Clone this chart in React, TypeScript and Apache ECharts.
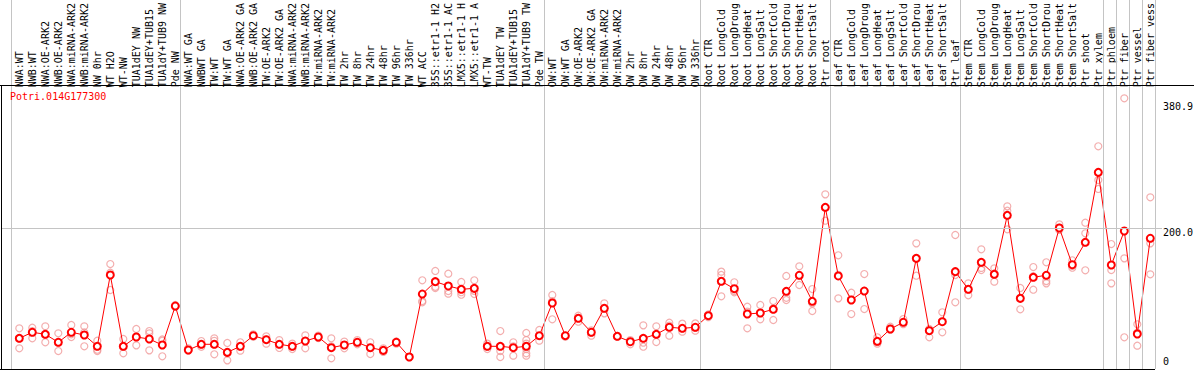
import React, { useEffect, useRef } from "react";
import * as echarts from "echarts";

const title = "Potri.014G177300";

const categories = [
  "NWA:WT", "NWB:WT", "NWA:OE-ARK2", "NWB:OE-ARK2", "NWA:miRNA-ARK2", "NWB:miRNA-ARK2", "NW 0hr", "WT H2O", "WT-NW", "TUA1dEY NW", "TUA1dEY+TUB15", "TUA1dY+TUB9 NW", "Pde NW",
  "NWA:WT GA", "NWBWT GA", "TW:WT", "TW:WT GA", "NWA:OE-ARK2 GA", "NWB:OE-ARK2 GA", "TW:OE-ARK2", "TW:OE-ARK2 GA", "NWA:miRNA-ARK2", "NWB:miRNA-ARK2", "TW:miRNA-ARK2", "TW:miRNA-ARK2", "TW 2hr", "TW 8hr", "TW 24hr", "TW 48hr", "TW 96hr", "TW 336hr", "WT ACC", "35S::etr1-1 H2", "35S::etr1-1 AC", "LMX5::etr1-1 H", "LMX5::etr1-1 A", "WT-TW", "TUA1dEY TW", "TUA1dEY+TUB15", "TUA1dY+TUB9 TW", "Pde TW",
  "OW:WT", "OW:WT GA", "OW:OE-ARK2", "OW:OE-ARK2 GA", "OW:miRNA-ARK2", "OW:miRNA-ARK2", "OW 2hr", "OW 8hr", "OW 24hr", "OW 48hr", "OW 96hr", "OW 336hr",
  "Root CTR", "Root LongCold", "Root LongDroug", "Root LongHeat", "Root LongSalt", "Root ShortCold", "Root ShortDrou", "Root ShortHeat", "Root ShortSalt", "Ptr root",
  "Leaf CTR", "Leaf LongCold", "Leaf LongDroug", "Leaf LongHeat", "Leaf LongSalt", "Leaf ShortCold", "Leaf ShortDrou", "Leaf ShortHeat", "Leaf ShortSalt", "Ptr leaf",
  "Stem CTR", "Stem LongCold", "Stem LongDroug", "Stem LongHeat", "Stem LongSalt", "Stem ShortCold", "Stem ShortDrou", "Stem ShortHeat", "Stem ShortSalt", "Ptr shoot", "Ptr xylem",
  "Ptr phloem", "Ptr fiber", "Ptr vessel", "Ptr fiber vess",
];

// number of categories in each separated block
const groupSizes = [13, 28, 12, 10, 10, 11, 1, 1, 1, 1];

const means = [
  41.6, 50.3, 47.4, 35.9, 50.3, 46.4, 30.1, 132.8, 30.1, 43.5, 40.6, 32.0, 88.1,
  24.8, 33.0, 33.0, 21.4, 30.1, 45.4, 39.6, 33.0, 30.1, 37.7, 43.5, 28.1, 32.0, 35.9, 28.1, 24.3, 35.9, 14.7, 105.4, 123.2, 117.0, 112.2, 113.6, 30.1, 30.1, 28.1, 30.1, 45.4,
  92.5, 45.4, 70.4, 50.3, 84.8, 44.5, 36.7, 41.6, 47.4, 57.5, 56.0, 57.5,
  74.2, 123.7, 113.1, 76.6, 78.1, 83.4, 109.3, 132.4, 94.9, 230.3,
  131.4, 96.8, 109.7, 37.3, 55.0, 64.7, 156.8, 52.6, 65.5, 137.6,
  112.2, 151.1, 133.8, 218.8, 99.2, 129.5, 132.4, 200.5, 147.6, 179.9, 280.7,
  147.2, 196.2, 47.8, 185.7,
];

const replicates = [
  [56, 27.2, 41.6], [56.9, 41.6, 52], [58.9, 35.9, 47.4], [48.8, 23.3, 35.9], [60.8, 43.5, 47.4], [58.9, 30.1, 50], [38.2, 25.2, 23.3], [148.6, 136.1, 111.2], [40.6, 20, 30], [55, 31.5, 44], [52.1, 48.8, 24.3], [38.2, 15.7, 40], [89.6, 87, 88],
  [27.2, 24], [37.7, 29.4, 33], [41.6, 18.6, 38], [34.9, 9.9, 20], [35.9, 23.8, 30], [47.4, 44, 45], [44.5, 33.9, 40], [39.1, 27.7, 33], [33.9, 26.2, 30], [45.9, 27.2, 38], [45.5, 43, 42], [41.6, 12.8, 30], [36.9, 27.2, 32], [39.1, 33, 36], [35.9, 19, 28], [27.2, 22, 24], [37, 35, 34], [14.7], [125.2, 95.3, 93.5], [138.6, 115.9, 114.1], [134.7, 109.7, 105.9], [122.7, 108, 104.4], [125.2, 105.4, 110], [33.9, 26.2, 30], [52.1, 23.3, 14.7], [35.9, 16.6, 30], [49.3, 39.1, 33.9, 26.2, 20, 16.6], [53.6, 38.2, 45],
  [104, 69, 95], [45.4, 44], [74.2, 65.5, 71], [45.4, 53, 50], [92, 77.6, 85], [44.5, 45], [39, 33, 37], [60.3, 35.4, 29.5], [58.9, 36.3, 47], [64.1, 45.4, 60], [62.7, 51.2, 56], [63.1, 52.6, 57],
  [74.2, 72, 76], [137.6, 132.8, 102.1], [122.3, 107.9, 110], [87.1, 56, 80], [89.6, 69, 78], [95.3, 68, 85], [131.4, 96.8, 100], [145.3, 118.4, 132], [112.6, 92, 80.9], [249, 211, 230],
  [161.2, 99.2, 133], [107.3, 76.6, 97], [134.2, 83.8, 110], [43.1, 33.9, 36], [58.3, 54, 56], [69.4, 62, 65], [178.4, 131.8, 157], [55, 43.1, 53], [79.1, 50.3, 66], [190.4, 132.8, 93.5],
  [120.8, 103.6, 112], [169.8, 140, 143], [142.4, 123.2, 135], [231.7, 225.4, 198.6], [114.1, 83.4, 100], [144.3, 111.6, 131], [151.1, 120.8, 124], [205.8, 197.7, 201], [154, 143.3, 146], [208.1, 192.9, 139.6], [318.2, 269.6, 256.7],
  [177.4, 140, 120.8], [387.3, 156.8, 43.1], [61.8, 31, 50], [244.7, 178.4, 133.8],
];

const yTickValues = [380.9, 200, 0];
const yTickLabels = ["380.9", "200.0", "0"];
const yGridValues = [200];

const FONT = "'DejaVu Sans Mono', 'Liberation Mono', monospace";

export default function App() {
  const ref = useRef<HTMLDivElement>(null);

  useEffect(() => {
    document.body.style.margin = "0";
    if (!ref.current) return;
    const chart = echarts.init(ref.current, null, { renderer: "svg" });

    const W = 1194;
    const step = 13;
    const firstX = 19.3;
    const gridLeftB = 1;
    const gridRightEdgeB = 1162;
    const xMin = (gridLeftB - firstX) / step;
    const xMax = (gridRightEdgeB - firstX) / step;

    // separators between blocks
    const bounds: number[] = [0];
    groupSizes.forEach((s) => bounds.push(bounds[bounds.length - 1] + s));
    const sepData = bounds.map((b) => ({ xAxis: b - 0.63 }));

    const repPoints: number[][] = [];
    replicates.forEach((arr, i) => arr.forEach((v) => repPoints.push([i, v])));

    const tickLineData = yTickValues.map((v, k) => {
      const isGrid = yGridValues.indexOf(v) >= 0;
      const style = v === 0 ? "b" : "t";
      return {
        yAxis: v,
        lineStyle: isGrid
          ? { color: "#c4c4c4", width: 1, type: "solid" }
          : { color: "rgba(255,255,255,0)", width: 1, type: "solid" },
        label: {
          show: true,
          position: "end",
          distance: 1,
          formatter: "{" + style + "|" + yTickLabels[k] + "}",
          color: "#000",
          fontFamily: FONT,
          fontSize: 10,
          rich: {
            t: { color: "#000", fontFamily: FONT, fontSize: 10, padding: [8, 0, 0, 0] },
            b: { color: "#000", fontFamily: FONT, fontSize: 10, padding: [0, 0, 11, 0] },
          },
        },
      };
    });

    chart.setOption({
      animation: false,
      backgroundColor: "#fff",
      title: {
        text: title,
        left: 5,
        top: 86,
        textStyle: { color: "#ff0000", fontFamily: FONT, fontSize: 10, fontWeight: "normal" },
      },
      grid: [
        { left: 12.5, width: categories.length * step, top: 85, height: 282, containLabel: false },
        { left: gridLeftB, width: gridRightEdgeB - gridLeftB, top: 0, height: 369, containLabel: false },
      ],
      xAxis: [
        {
          type: "category",
          gridIndex: 0,
          position: "top",
          data: categories,
          boundaryGap: true,
          axisLine: { show: false },
          axisTick: { show: false },
          splitLine: { show: false },
          axisLabel: {
            interval: 0,
            rotate: 90,
            margin: 3,
            color: "#000",
            fontFamily: FONT,
            fontSize: 10,
          },
        },
        {
          type: "value",
          gridIndex: 1,
          min: xMin,
          max: xMax,
          show: false,
        },
      ],
      yAxis: [
        { type: "value", gridIndex: 0, show: false },
        { type: "value", gridIndex: 1, min: -2.59, max: 528.9, show: false },
      ],
      graphic: [
        { type: "line", shape: { x1: 0, y1: 85.5, x2: W, y2: 85.5 }, style: { stroke: "#000", lineWidth: 1 }, z: 10 },
        { type: "line", shape: { x1: 1.5, y1: 85, x2: 1.5, y2: 370 }, style: { stroke: "#000", lineWidth: 1 }, z: 10 },
        { type: "line", shape: { x1: 0, y1: 369.5, x2: 1155, y2: 369.5 }, style: { stroke: "#000", lineWidth: 1 }, z: 10 },
      ],
      series: [
        {
          type: "scatter",
          xAxisIndex: 1,
          yAxisIndex: 1,
          data: repPoints,
          symbol: "circle",
          symbolSize: 7,
          itemStyle: { color: "rgba(0,0,0,0)", borderColor: "#f09a9a", borderWidth: 1.2 },
          z: 2,
          markLine: {
            silent: true,
            symbol: "none",
            animation: false,
            label: { show: false },
            lineStyle: { color: "#c4c4c4", width: 1, type: "solid" },
            data: sepData,
          },
        },
        {
          type: "line",
          xAxisIndex: 1,
          yAxisIndex: 1,
          data: means.map((v, i) => [i, v]),
          symbol: "emptyCircle",
          symbolSize: 7,
          lineStyle: { color: "#ff0000", width: 1 },
          itemStyle: { color: "#ff0000", borderWidth: 1.3 },
          z: 3,
          markLine: {
            silent: true,
            symbol: "none",
            animation: false,
            data: tickLineData,
          },
        },
      ],
    });

    return () => chart.dispose();
  }, []);

  return <div ref={ref} style={{ width: 1194, height: 370 }} />;
}
